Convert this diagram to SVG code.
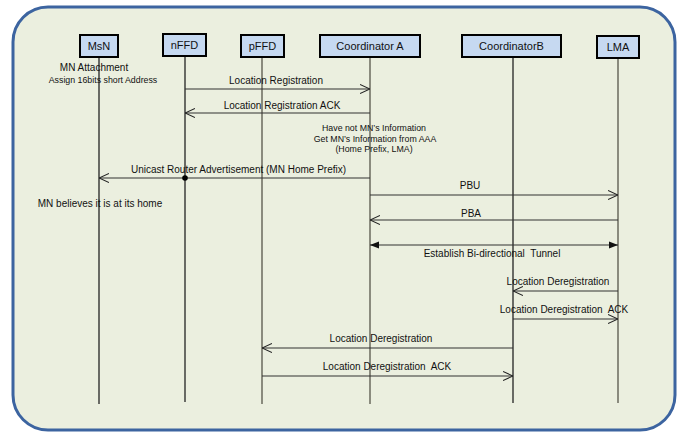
<svg xmlns="http://www.w3.org/2000/svg" width="686" height="432" viewBox="0 0 686 432">
<style>
.box{fill:#C6D9F1;stroke:#000;stroke-width:2}
.bl{font-family:"Liberation Sans",Arial,sans-serif;font-size:11px;fill:#111;text-anchor:middle}
.life{stroke:#222;stroke-width:1.3;fill:none}
.lg{stroke:#6a6a5e;stroke-width:1.5;fill:none}
.msg{stroke:#333;stroke-width:1.2;fill:none}
.t{font-family:"Liberation Sans",Arial,sans-serif;font-size:10px;fill:#111;text-anchor:middle}
.s{font-family:"Liberation Sans",Arial,sans-serif;font-size:8.8px;fill:#111;text-anchor:middle}
</style>
<defs>
<marker id="open" viewBox="0 0 10 10" refX="10" refY="5" markerWidth="10" markerHeight="10" markerUnits="userSpaceOnUse" orient="auto-start-reverse">
<path d="M0,0.5 L10,5 L0,9.5" fill="none" stroke="#222" stroke-width="1.1"/>
</marker>
<marker id="fill" viewBox="0 0 10 10" refX="10" refY="5" markerWidth="9" markerHeight="9" markerUnits="userSpaceOnUse" orient="auto-start-reverse">
<path d="M0,1 L10,5 L0,9 Z" fill="#111"/>
</marker>
</defs>
<rect x="13" y="7" width="662" height="423" rx="35" ry="35" fill="#EBEFDF" stroke="#3C64A0" stroke-width="3"/>

<g id="connectors">
<g id="lifelines">
<line class="life" x1="99" y1="57" x2="99" y2="404"/>
<line class="life" x1="185" y1="56" x2="185" y2="402"/>
<line class="lg" x1="262" y1="57" x2="262" y2="404"/>
<line class="lg" x1="370" y1="57" x2="370" y2="404"/>
<line class="life" x1="513" y1="57" x2="513" y2="403"/>
<line class="lg" x1="618" y1="58" x2="618" y2="403"/>
</g>
<line class="msg" x1="185" y1="89" x2="370" y2="89" marker-end="url(#open)"/>
<line class="msg" x1="370" y1="113" x2="185" y2="113" marker-end="url(#open)"/>
<line class="msg" x1="370" y1="178" x2="99" y2="178" marker-end="url(#open)"/>
<circle cx="185" cy="178" r="2.8" fill="#000"/>
<line class="msg" x1="370" y1="195" x2="618" y2="195" marker-end="url(#open)"/>
<line class="msg" x1="618" y1="220" x2="370" y2="220" marker-end="url(#open)"/>
<line class="msg" x1="370" y1="245" x2="618" y2="245" marker-start="url(#fill)" marker-end="url(#fill)"/>
<line class="msg" x1="618" y1="291" x2="513" y2="291" marker-end="url(#open)"/>
<line class="msg" x1="513" y1="319" x2="618" y2="319" marker-end="url(#open)"/>
<line class="msg" x1="513" y1="348" x2="262" y2="348" marker-end="url(#open)"/>
<line class="msg" x1="262" y1="376" x2="513" y2="376" marker-end="url(#open)"/>
</g>

<g id="MsN"><rect class="box" x="80" y="35" width="38" height="22"/><text class="bl" x="99" y="50">MsN</text></g>
<g id="nFFD"><rect class="box" x="163" y="34" width="43" height="22"/><text class="bl" x="184.5" y="49">nFFD</text></g>
<g id="pFFD"><rect class="box" x="241" y="35" width="43" height="22"/><text class="bl" x="262.5" y="50">pFFD</text></g>
<g id="CoordinatorA"><rect class="box" x="320" y="35" width="100" height="22"/><text class="bl" x="370" y="50">Coordinator A</text></g>
<g id="CoordinatorB"><rect class="box" x="462" y="35" width="99" height="22"/><text class="bl" x="511.5" y="50">CoordinatorB</text></g>
<g id="LMA"><rect class="box" x="597" y="36" width="42" height="22"/><text class="bl" x="618" y="51">LMA</text></g>

<g id="labels">
<text class="t" x="94" y="70.5">MN Attachment</text>
<text class="s" x="103" y="83">Assign 16bits short Address</text>
<text class="t" x="276" y="83.5">Location Registration</text>
<text class="t" x="282" y="108.5">Location Registration ACK</text>
<text class="s" x="374" y="131">Have not MN’s Information</text>
<text class="s" x="375" y="142">Get MN’s Information from AAA</text>
<text class="s" x="374" y="152">(Home Prefix, LMA)</text>
<text class="t" x="238.5" y="172.5">Unicast Router Advertisement (MN Home Prefix)</text>
<text class="t" x="100" y="206.5" >MN believes it is at its home</text>
<text class="t" x="470" y="188.5">PBU</text>
<text class="t" x="471" y="216.5">PBA</text>
<text class="t" x="492" y="256.5" xml:space="preserve">Establish Bi-directional  Tunnel</text>
<text class="t" x="558" y="284.5">Location Deregistration</text>
<text class="t" x="564" y="312.5" xml:space="preserve">Location Deregistration  ACK</text>
<text class="t" x="381" y="341.5">Location Deregistration</text>
<text class="t" x="387" y="369.5" xml:space="preserve">Location Deregistration  ACK</text>
</g>
</svg>
